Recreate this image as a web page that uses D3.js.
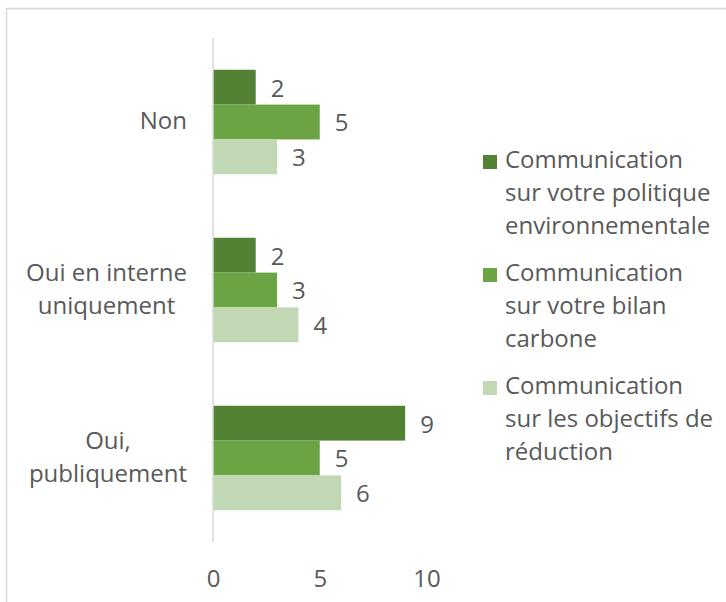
<!DOCTYPE html>
<html><head><meta charset="utf-8">
<script src="https://cdn.jsdelivr.net/npm/d3@7"></script>
<style>body{margin:0;background:#fff}svg{display:block}text{font-family:"Open Sans",sans-serif;fill:#595959}</style>
</head><body>
<script>
const categories = ["Non", "Oui en interne\nuniquement", "Oui,\npubliquement"];
const seriesNames = ["Communication\nsur votre politique\nenvironnementale", "Communication\nsur votre bilan\ncarbone", "Communication\nsur les objectifs de\nréduction"];
const politique = [2, 2, 9];
const bilan = [5, 3, 5];
const objectifs = [3, 4, 6];
const xTicks = [0, 5, 10];
const colors = ["#548235", "#6aa443", "#c1d8b5"];

const series = [politique, bilan, objectifs];
const W = 726, H = 602;
const FS = 24;
const svg = d3.select("body").append("svg").attr("width", W).attr("height", H);
svg.append("rect").attr("x", 6.5).attr("y", 8.5).attr("width", W).attr("height", H)
  .attr("fill", "#fff").attr("stroke", "#d9d9d9").attr("stroke-width", 1.5);

const x = d3.scaleLinear().domain([0, 10]).range([213, 426.5]);
const y = d3.scaleBand().domain(categories).range([38, 542]).paddingInner(0.378).paddingOuter(0.189);
const ys = d3.scaleBand().domain(d3.range(series.length)).range([0, y.bandwidth()]);

// bars
categories.forEach((c, ci) => {
  series.forEach((s, si) => {
    const v = s[ci];
    svg.append("rect").attr("x", x(0)).attr("y", y(c) + ys(si))
      .attr("width", x(v) - x(0)).attr("height", ys.bandwidth()).attr("fill", colors[si]);
    svg.append("text").attr("x", x(v) + 15).attr("y", y(c) + ys(si) + ys.bandwidth() / 2 + 3)
      .attr("dominant-baseline", "middle").attr("font-size", FS).text(v);
  });
});

// axis line
svg.append("line").attr("x1", x(0)).attr("x2", x(0)).attr("y1", 38).attr("y2", 542)
  .attr("stroke", "#d9d9d9").attr("stroke-width", 1.5);

// x tick labels
const xa = svg.append("g").attr("transform", "translate(0,570)")
  .call(d3.axisBottom(x).tickValues(xTicks).tickSize(0).tickPadding(0).tickFormat(d3.format("d")));
xa.select(".domain").remove();
xa.selectAll("text").attr("font-size", FS).attr("font-family", "Open Sans, sans-serif").attr("fill", "#595959").attr("dy", "0.71em");

// category labels
const lh = 33;
categories.forEach(c => {
  const lines = c.split("\n");
  const cy = y(c) + y.bandwidth() / 2 + 1;
  const t = svg.append("text").attr("font-size", FS).attr("text-anchor", "middle");
  lines.forEach((l, i) => {
    t.append("tspan").attr("x", 0).attr("y", cy + (i - (lines.length - 1) / 2) * lh)
      .attr("dominant-baseline", "middle").text(l);
  });
  const bb = t.node().getBBox();
  t.attr("transform", `translate(${187 - bb.width / 2},0)`);
});

// legend
const legTop = [162, 275, 388];
seriesNames.forEach((n, i) => {
  svg.append("rect").attr("x", 483).attr("y", legTop[i] - 7).attr("width", 14).attr("height", 14).attr("fill", colors[i]);
  const t = svg.append("text").attr("font-size", FS);
  n.split("\n").forEach((l, j) => {
    t.append("tspan").attr("x", 505).attr("y", legTop[i] + j * 33).attr("dominant-baseline", "middle").text(l);
  });
});
</script>
</body></html>
